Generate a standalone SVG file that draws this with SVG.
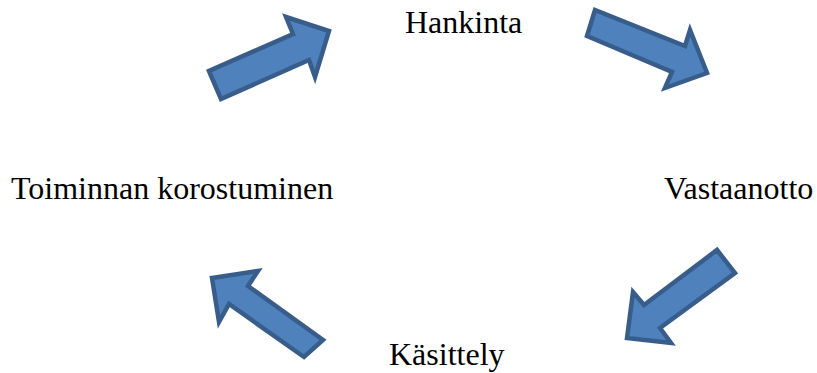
<svg xmlns="http://www.w3.org/2000/svg" width="817" height="373" viewBox="0 0 817 373">
  <style>
    .arrow { fill: #4F81BD; stroke: #385D8A; stroke-width: 4.5; stroke-linejoin: miter; }
    .label { font-family: "Liberation Serif", "Times New Roman", serif; font-size: 32px; fill: #000; }
  </style>
  <rect width="817" height="373" fill="#fff"/>

  <!-- connectors: block arrows between the stages -->
  <g id="connectors">
    <polygon class="arrow" points="209,71 221,99 309,60 315,77 329,31 286,17 293,34"/>
    <polygon class="arrow" points="595,10 587,36 672,72 665,88 707,73 690,30 685,46"/>
    <polygon class="arrow" points="717,250 735,273 660,328 671,343 627,338 633,292 644,305"/>
    <polygon class="arrow" points="212,278 258,271 248,286 323,340 304,357 229,304 219,322"/>
  </g>

  <g id="hankinta"><text class="label" x="405" y="33">Hankinta</text></g>
  <g id="vastaanotto"><text class="label" x="664" y="199">Vastaanotto</text></g>
  <g id="kasittely"><text class="label" x="389" y="365">Käsittely</text></g>
  <g id="toiminnan-korostuminen"><text class="label" x="11" y="199">Toiminnan korostuminen</text></g>
</svg>
